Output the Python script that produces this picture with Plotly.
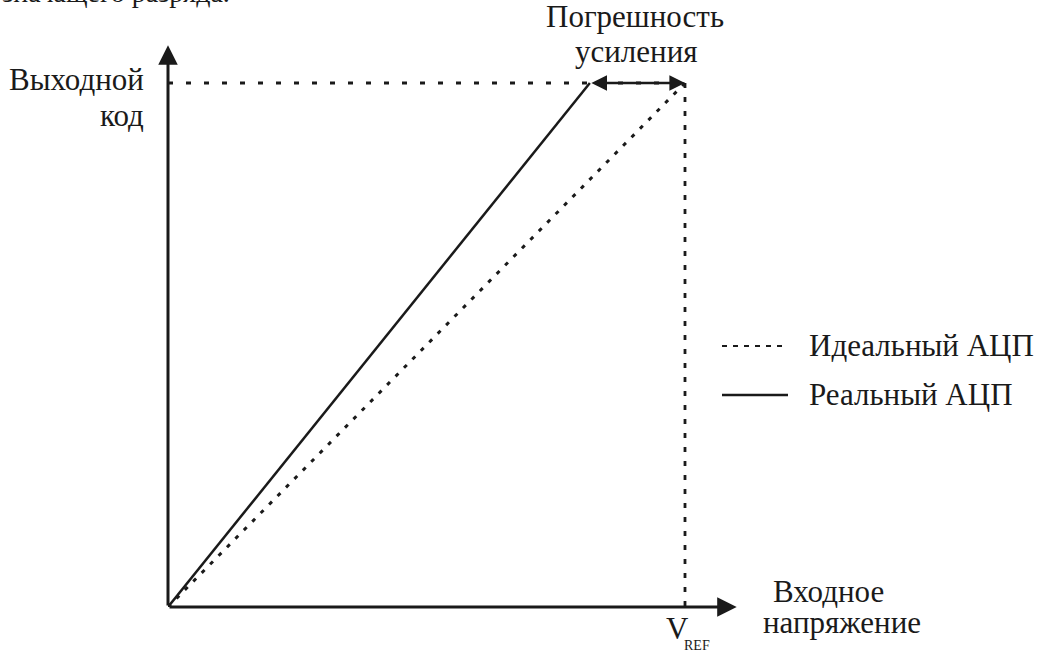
import plotly.graph_objects as go

# transfer characteristics, normalised: x = input / V_REF, y = output code / full scale
ideal_x = [0.0, 1.0]
ideal_y = [0.0, 1.0]
real_x = [0.0, 0.816]
real_y = [0.0, 1.0]

# axis extents (arrow tips)
x_axis_end = 1.10
y_axis_end = 1.072

legend_names = ["Идеальный АЦП", "Реальный АЦП"]

FONT = "Liberation Serif"
INK = "#1a1a1a"
FS = 31

W, H = 1043, 652
ml, mb = 168, 45
x_scale = 517.0
y_scale = 524.0
pw, ph = W - ml, H - mb

fig = go.Figure()

# guide lines to full scale (dotted)
fig.add_trace(go.Scatter(
    x=[0, ideal_x[1]], y=[ideal_y[1], ideal_y[1]],
    mode="lines", line=dict(color=INK, width=2.8, dash="5px,13px"),
    hoverinfo="skip", showlegend=False,
))
fig.add_trace(go.Scatter(
    x=[ideal_x[1], ideal_x[1]], y=[ideal_y[1], 0],
    mode="lines", line=dict(color=INK, width=2.8, dash="5px,9px"),
    hoverinfo="skip", showlegend=False,
))
fig.add_trace(go.Scatter(
    x=ideal_x, y=ideal_y, mode="lines",
    line=dict(color=INK, width=3, dash="4px,8px"),
    name=legend_names[0], showlegend=False,
))
fig.add_trace(go.Scatter(
    x=real_x, y=real_y, mode="lines",
    line=dict(color=INK, width=2.5),
    name=legend_names[1], showlegend=False,
))

annotations = []
# axes with arrowheads
annotations.append(dict(x=x_axis_end, y=0, ax=0, ay=0, xref="x", yref="y", axref="x", ayref="y",
                        showarrow=True, arrowhead=2, arrowsize=1.3, arrowwidth=3, arrowcolor=INK, text=""))
annotations.append(dict(x=0, y=y_axis_end, ax=0, ay=0, xref="x", yref="y", axref="x", ayref="y",
                        showarrow=True, arrowhead=2, arrowsize=1.3, arrowwidth=3, arrowcolor=INK, text=""))
# gain error double arrow
annotations.append(dict(x=ideal_x[1], y=ideal_y[1], ax=real_x[1], ay=real_y[1],
                        xref="x", yref="y", axref="x", ayref="y",
                        showarrow=True, arrowhead=2, startarrowhead=2, arrowside="end+start",
                        arrowsize=1.2, startarrowsize=1.2, arrowwidth=2.6, arrowcolor=INK, text=""))


def px(xp):
    return (xp - ml) / pw


def py(yp):
    return (ph - yp) / ph


def label(text, x, y, xanchor="center", size=FS):
    annotations.append(dict(text=text, x=px(x), y=py(y), xref="paper", yref="paper",
                            xanchor=xanchor, yanchor="middle", showarrow=False,
                            font=dict(family=FONT, size=size, color=INK)))


label("Выходной", 146, 80, xanchor="right")
label("код", 146, 116, xanchor="right")
label("Погрешность", 635, 17)
label("усиления", 636, 51)
label("Входное", 828, 591)
label("напряжение", 842, 622)
label("V", 677, 628, size=31)
label("REF", 697, 645, size=14)
# running text of the page above the figure, cut by the top edge
label("младшего значащего разряда.", 232, -7, xanchor="right", size=28)

# legend drawn by hand
shapes = [
    dict(type="line", xref="paper", yref="paper", x0=px(722), x1=px(788), y0=py(346), y1=py(346),
         line=dict(color=INK, width=2, dash="5px,6px")),
    dict(type="line", xref="paper", yref="paper", x0=px(722), x1=px(788), y0=py(395), y1=py(395),
         line=dict(color=INK, width=2.6)),
]
label(legend_names[0], 807, 345, xanchor="left")
label(legend_names[1], 807, 394, xanchor="left")

fig.update_layout(
    width=W, height=H,
    margin=dict(l=ml, r=0, t=0, b=mb),
    paper_bgcolor="white", plot_bgcolor="white",
    xaxis=dict(range=[0, pw / x_scale], visible=False, fixedrange=True),
    yaxis=dict(range=[0, ph / y_scale], visible=False, fixedrange=True),
    annotations=annotations,
    shapes=shapes,
    showlegend=False,
)

fig.write_html("out.html", config={"displayModeBar": False},
               post_script="document.body.style.margin='0';")
